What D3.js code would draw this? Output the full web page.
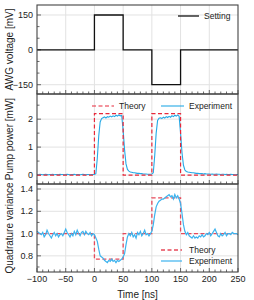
<!DOCTYPE html>
<html>
<head>
<meta charset="utf-8">
<script src="https://cdn.jsdelivr.net/npm/d3@7"></script>
<style>
  body { margin: 0; background: #fff; }
  text { font-family: "Liberation Sans", Arial, sans-serif; fill: #222; }
</style>
</head>
<body>
<div id="chart"></div>
<script>
// time ticks
const timeTicks = [-100, -50, 0, 50, 100, 150, 200, 250];

// panel 1: AWG setting (step points)
const settingTimes  = [-100, 0, 0, 50, 50, 100, 100, 150, 150, 250];
const settingValues = [0, 0, 150, 150, 0, 0, -150, -150, 0, 0];
const voltTicks = [-150, 0, 150];

// panel 2: pump power
const pumpTheoryTimes  = [-100, 0, 0, 50, 50, 100, 100, 150, 150, 250];
const pumpTheoryValues = [0, 0, 2.2, 2.2, 0, 0, 2.2, 2.2, 0, 0];
const pumpTicks = [0, 1, 2];

// experiment samples every 2.5 ns starting at -100 ns
const sampleStart = -100, sampleStep = 2.5;
const pumpExperiment = [
  0.02, 0.01, 0.03, 0.02, 0.01, 0.02, 0.03, 0.02, 0.01, 0.02,
  0.02, 0.03, 0.01, 0.02, 0.02, 0.01, 0.03, 0.02, 0.02, 0.01,
  0.02, 0.03, 0.02, 0.01, 0.02, 0.02, 0.03, 0.01, 0.02, 0.02,
  0.01, 0.02, 0.03, 0.02, 0.01, 0.02, 0.02, 0.01, 0.02, 0.02,
  0.02, 0.05, 0.6, 1.4, 1.9, 2.02, 2.05, 2.08, 2.04, 2.09,
  2.07, 2.11, 2.08, 2.12, 2.09, 2.14, 2.11, 2.15, 2.12, 2.13,
  1.6, 0.9, 0.4, 0.2, 0.14, 0.11, 0.1, 0.08, 0.08, 0.07,
  0.06, 0.06, 0.05, 0.05, 0.04, 0.04, 0.04, 0.03, 0.03, 0.03,
  0.04, 0.08, 0.7, 1.5, 1.95, 2.03, 2.05, 2.02, 2.07, 2.04,
  2.09, 2.06, 2.1, 2.07, 2.12, 2.09, 2.14, 2.11, 2.15, 2.1,
  1.5, 0.8, 0.35, 0.18, 0.13, 0.11, 0.1, 0.09, 0.08, 0.08,
  0.07, 0.06, 0.06, 0.05, 0.05, 0.05, 0.04, 0.05, 0.04, 0.04,
  0.04, 0.03, 0.04, 0.03, 0.03, 0.04, 0.03, 0.03, 0.02, 0.03,
  0.03, 0.02, 0.03, 0.02, 0.02, 0.03, 0.02, 0.02, 0.01, 0.02,
  0.02
];

// panel 3: quadrature variance
const varTheoryTimes  = [-100, 0, 0, 50, 50, 100, 100, 150, 150, 250];
const varTheoryValues = [1.0, 1.0, 0.77, 0.77, 1.0, 1.0, 1.32, 1.32, 1.0, 1.0];
const varTicks = [0.8, 1.0, 1.2, 1.4];
const varExperiment = [
  1.02, 1.01, 1.0, 0.99, 1.01, 0.97, 0.99, 1.03, 1.0, 0.98,
  0.96, 0.99, 1.01, 0.98, 1.0, 0.97, 0.99, 1.0, 0.98, 1.01,
  1.04, 1.01, 0.99, 0.97, 1.0, 0.98, 1.02, 0.99, 1.03, 1.0,
  0.98, 1.01, 1.02, 0.99, 1.02, 1.0, 0.99, 1.01, 0.98, 1.0,
  0.99, 0.96, 0.93, 0.86, 0.8, 0.79, 0.78, 0.76, 0.75, 0.74,
  0.76, 0.75, 0.77, 0.75, 0.76, 0.74, 0.76, 0.75, 0.76, 0.77,
  0.79, 0.82, 0.9, 0.97, 1.0, 0.98, 1.01, 0.97, 0.99, 0.96,
  1.01, 0.99, 1.02, 0.98, 1.0, 1.03, 0.99, 1.0, 0.98, 1.0,
  1.02, 1.08, 1.17, 1.24, 1.27, 1.29, 1.3, 1.31, 1.31, 1.32,
  1.33, 1.34, 1.35, 1.33, 1.34, 1.31, 1.35, 1.32, 1.34, 1.31,
  1.27, 1.18, 1.08, 1.02, 0.99, 1.01, 0.98, 0.97, 0.96, 0.98,
  0.96, 0.97, 0.96, 0.98, 0.97, 0.99, 0.97, 0.98, 1.0, 0.99,
  1.01, 0.98, 1.0, 1.02, 1.04, 1.01, 0.98, 0.97, 1.0, 0.98,
  0.99, 1.01, 0.98, 1.0, 1.0, 0.99, 1.01, 1.0, 1.0, 1.0,
  0.99
];

const width = 254, height = 300;
const left = 37, right = 238;

const svg = d3.select("#chart").append("svg")
    .attr("width", width)
    .attr("height", height);

const x = d3.scaleLinear().domain([-100, 250]).range([left, right]);

const panels = [
  { top: 5,  bottom: 94,  domain: [-190, 193], ticks: voltTicks, minor: d3.range(-150, 151, 50), label: "AWG voltage [mV]", fmt: d => d3.format("d")(d).replace("-", "\u2212") },
  { top: 94, bottom: 184, domain: [-0.32, 2.9], ticks: pumpTicks, minor: [0, 0.5, 1, 1.5, 2, 2.5], label: "Pump power [mW]", fmt: d3.format("d") },
  { top: 184, bottom: 272, domain: [0.655, 1.445], ticks: varTicks, minor: [0.7, 0.8, 0.9, 1.0, 1.1, 1.2, 1.3, 1.4], label: "Quadrature variance", fmt: d3.format(".1f") }
];

panels.forEach(p => {
  p.y = d3.scaleLinear().domain(p.domain).range([p.bottom, p.top]);
});

const minorX = d3.range(-100, 251, 10);

panels.forEach((p, i) => {
  const g = svg.append("g");

  // grid
  g.selectAll(".vgrid").data(timeTicks.slice(1, -1)).join("line")
      .attr("x1", d => x(d)).attr("x2", d => x(d))
      .attr("y1", p.top).attr("y2", p.bottom)
      .attr("stroke", "#e2e2e2").attr("stroke-width", 1);
  g.selectAll(".hgrid").data(p.ticks).join("line")
      .attr("x1", left).attr("x2", right)
      .attr("y1", d => p.y(d)).attr("y2", d => p.y(d))
      .attr("stroke", "#e2e2e2").attr("stroke-width", 1);

  // bottom ticks (inward)
  g.selectAll(".xt").data(minorX).join("line")
      .attr("x1", d => x(d)).attr("x2", d => x(d))
      .attr("y1", p.bottom)
      .attr("y2", d => p.bottom - (d % 50 === 0 ? 4 : 2.5))
      .attr("stroke", "#444").attr("stroke-width", 0.8);

  // left ticks (inward)
  g.selectAll(".yt").data(p.minor).join("line")
      .attr("x1", left)
      .attr("x2", d => left + (p.ticks.some(t => Math.abs(t - d) < 1e-9) ? 4 : 2.5))
      .attr("y1", d => p.y(d)).attr("y2", d => p.y(d))
      .attr("stroke", "#444").attr("stroke-width", 0.8);

  // tick labels
  g.selectAll(".yl").data(p.ticks).join("text")
      .attr("x", left - 4).attr("y", d => p.y(d))
      .attr("text-anchor", "end").attr("dominant-baseline", "central")
      .style("font-size", "9px")
      .text(p.fmt);

  // axis label
  g.append("text")
      .attr("transform", `translate(9.5,${(p.top + p.bottom) / 2}) rotate(-90)`)
      .attr("text-anchor", "middle").attr("dominant-baseline", "central")
      .style("font-size", "10px")
      .text(p.label);
});

// panel 1
const p1 = panels[0];
svg.append("path")
    .datum(d3.zip(settingTimes, settingValues))
    .attr("d", d3.line().x(d => x(d[0])).y(d => p1.y(d[1])))
    .attr("fill", "none").attr("stroke", "#111").attr("stroke-width", 1.3);

// panel 2
const p2 = panels[1];
const pumpExp = pumpExperiment.map((v, i) => [sampleStart + i * sampleStep, v]);
svg.append("path")
    .datum(pumpExp)
    .attr("d", d3.line().x(d => x(d[0])).y(d => p2.y(d[1])))
    .attr("fill", "none").attr("stroke", "#25a9e6").attr("stroke-width", 1.1);
svg.append("path")
    .datum(d3.zip(pumpTheoryTimes, pumpTheoryValues))
    .attr("d", d3.line().x(d => x(d[0])).y(d => p2.y(d[1])))
    .attr("fill", "none").attr("stroke", "#e8283a").attr("stroke-width", 1.2)
    .attr("stroke-dasharray", "4,2.5");

// panel 3
const p3 = panels[2];
const varExp = varExperiment.map((v, i) => [sampleStart + i * sampleStep, v]);
svg.append("path")
    .datum(d3.zip(varTheoryTimes, varTheoryValues))
    .attr("d", d3.line().x(d => x(d[0])).y(d => p3.y(d[1])))
    .attr("fill", "none").attr("stroke", "#e8495a").attr("stroke-width", 1.3)
    .attr("stroke-dasharray", "4,2.5");
svg.append("path")
    .datum(varExp)
    .attr("d", d3.line().x(d => x(d[0])).y(d => p3.y(d[1])))
    .attr("fill", "none").attr("stroke", "#3db3ee").attr("stroke-width", 1.2);

// frames
panels.forEach(p => {
  svg.append("rect")
      .attr("x", left).attr("y", p.top)
      .attr("width", right - left).attr("height", p.bottom - p.top)
      .attr("fill", "none").attr("stroke", "#444").attr("stroke-width", 1.1);
});

// x tick labels
svg.selectAll(".xl").data(timeTicks).join("text")
    .attr("x", d => x(d)).attr("y", p3.bottom + 10)
    .attr("text-anchor", "middle")
    .style("font-size", "9px")
    .text(d => String(d).replace("-", "\u2212"));
svg.append("text")
    .attr("x", (left + right) / 2).attr("y", 298)
    .attr("text-anchor", "middle")
    .style("font-size", "10px")
    .text("Time [ns]");

// legends
function legendEntry(x1, x2, y, color, dash, sw, label, tx) {
  svg.append("line")
      .attr("x1", x1).attr("x2", x2).attr("y1", y).attr("y2", y)
      .attr("stroke", color).attr("stroke-width", sw)
      .attr("stroke-dasharray", dash);
  svg.append("text")
      .attr("x", tx).attr("y", y).attr("dominant-baseline", "central")
      .style("font-size", "8.5px")
      .text(label);
}
legendEntry(178, 199, 16, "#111", null, 1.3, "Setting", 204);
legendEntry(92, 114, 106, "#e8283a", "4,2.5", 1.2, "Theory", 119);
legendEntry(161, 184, 106, "#25a9e6", null, 1.1, "Experiment", 189);
legendEntry(161, 182, 250, "#e8495a", "4,2.5", 1.3, "Theory", 189);
legendEntry(161, 182, 261, "#3db3ee", null, 1.2, "Experiment", 189);
</script>
</body>
</html>
